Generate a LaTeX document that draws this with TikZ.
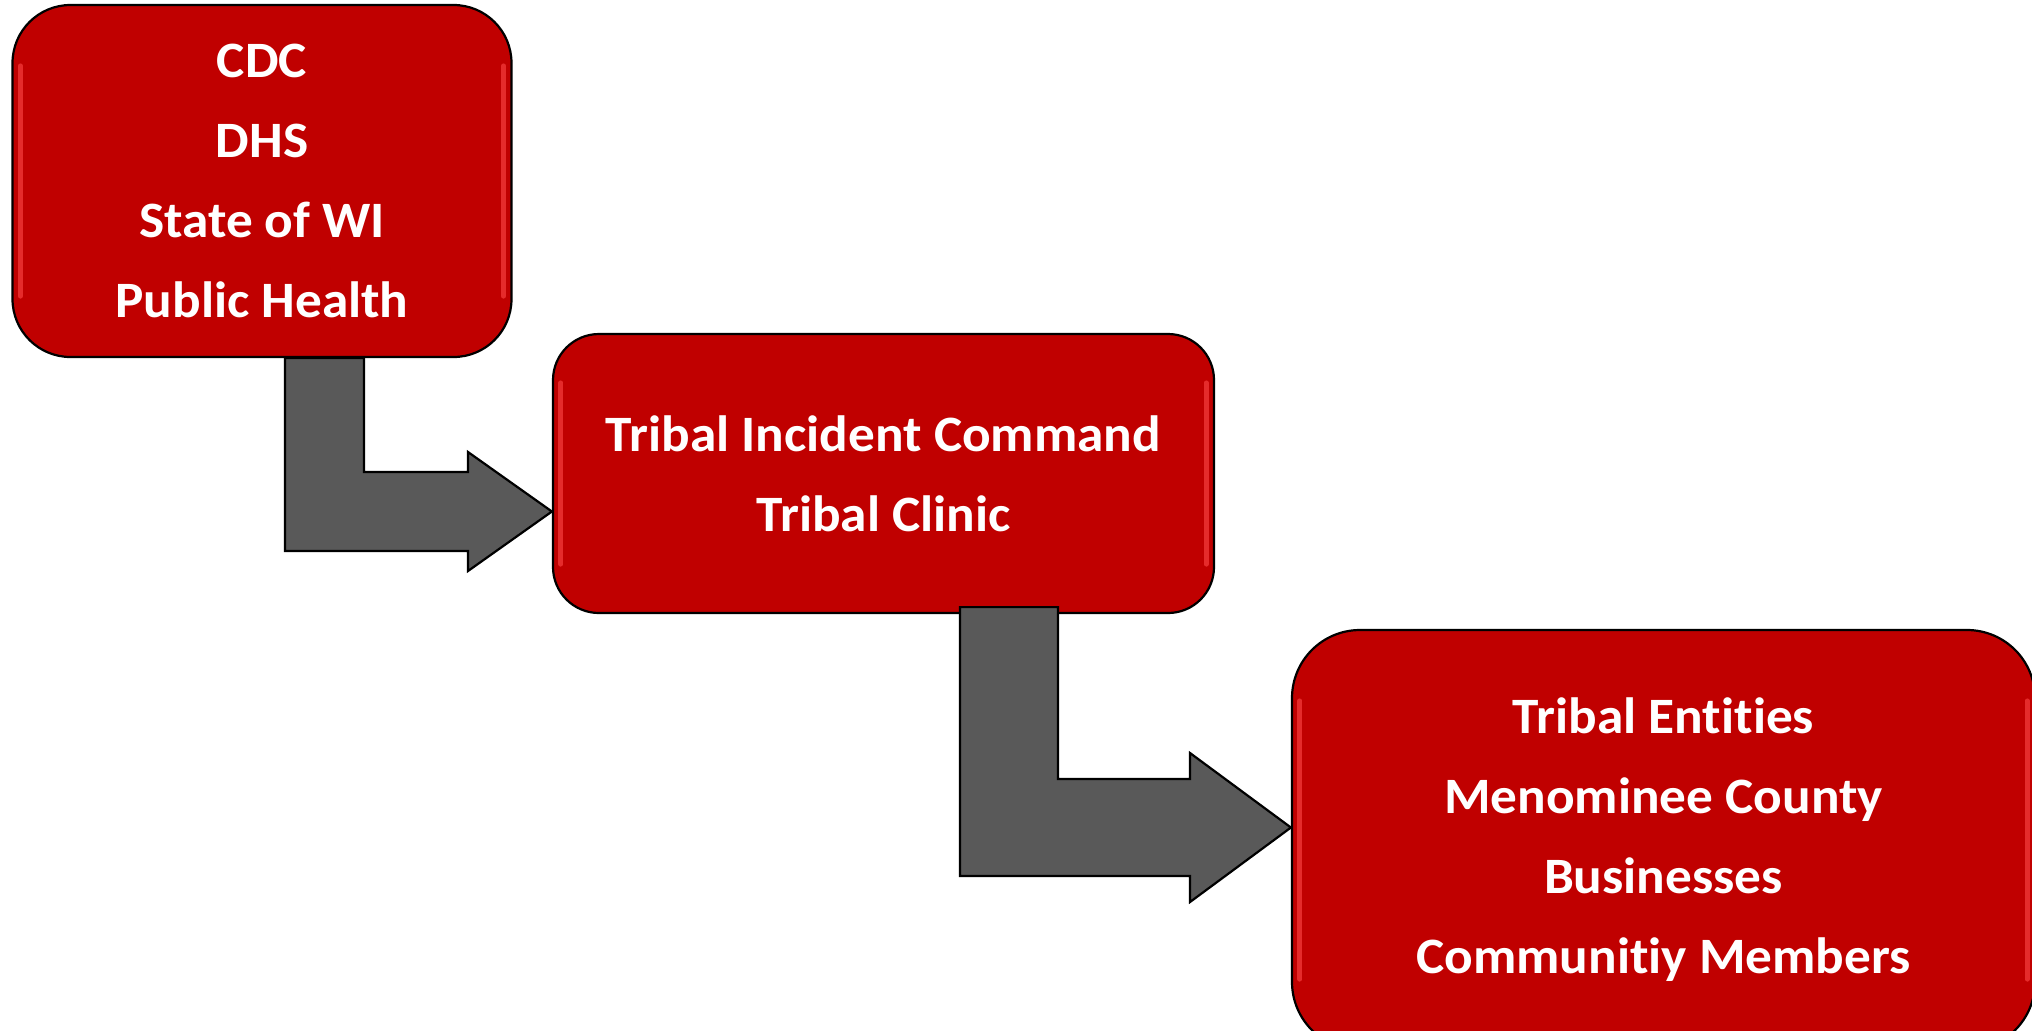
\documentclass[tikz,border=0pt]{standalone}
\usepackage{fontspec}
\setmainfont{Carlito}[FakeStretch=1.045,Ligatures=NoCommon]
\usetikzlibrary{calc}

\definecolor{boxred}{RGB}{192,0,0}
\definecolor{glossred}{RGB}{255,72,72}
\definecolor{arrowgray}{RGB}{89,89,89}

\begin{document}
\begin{tikzpicture}[x=0.5pt,y=-0.5pt,
                    agency/.style={draw=black,line width=1.1pt,fill=boxred,text=white,
                      align=center,inner sep=0pt,
                      font=\fontsize{25.5}{40}\selectfont\bfseries},
                    flow/.style={draw=black,line width=1.1pt,fill=arrowgray,line join=miter},
                    gloss/.style={draw=glossred,line width=2.5pt,line cap=round,opacity=0.6}]
  \useasboundingbox (0,0) rectangle (2032,1030);
  \clip (0,0) rectangle (2032,1030);

  \node[agency,minimum width=249.5pt,minimum height=176pt,rounded corners=29pt] (b1)
    at (262,181) {CDC\\DHS\\State of WI\\Public Health};
  \node[agency,minimum width=330.5pt,minimum height=139.5pt,rounded corners=23pt] (b2)
    at (883.5,473.5) {Tribal Incident Command\\Tribal Clinic};
  \node[agency,minimum width=371.5pt,minimum height=210pt,rounded corners=34pt] (b3)
    at (1663.5,840) {Tribal Entities\\Menominee County\\Businesses\\Communitiy Members};

  \foreach \b/\r in {b1/62,b2/50,b3/72} {
    \draw[gloss] ($(\b.north west)+(9,\r)$) -- ($(\b.south west)+(9,-\r)$);
    \draw[gloss] ($(\b.north east)+(-9,\r)$) -- ($(\b.south east)+(-9,-\r)$);
  }

  \draw[flow] (b1.south -| 285,0) -- (b1.south -| 364,0) -- (364,472) -- (468,472)
    -- (468,452) -- (b2.west |- 0,511.5) -- (468,571) -- (468,551) -- (285,551) -- cycle;
  \draw[flow] ($(b2.south -| 960,0)+(0,-7)$) -- ($(b2.south -| 1058,0)+(0,-7)$) -- (1058,779)
    -- (1190,779) -- (1190,753) -- (b3.west |- 0,827.5) -- (1190,902) -- (1190,876)
    -- (960,876) -- cycle;
\end{tikzpicture}
\end{document}
